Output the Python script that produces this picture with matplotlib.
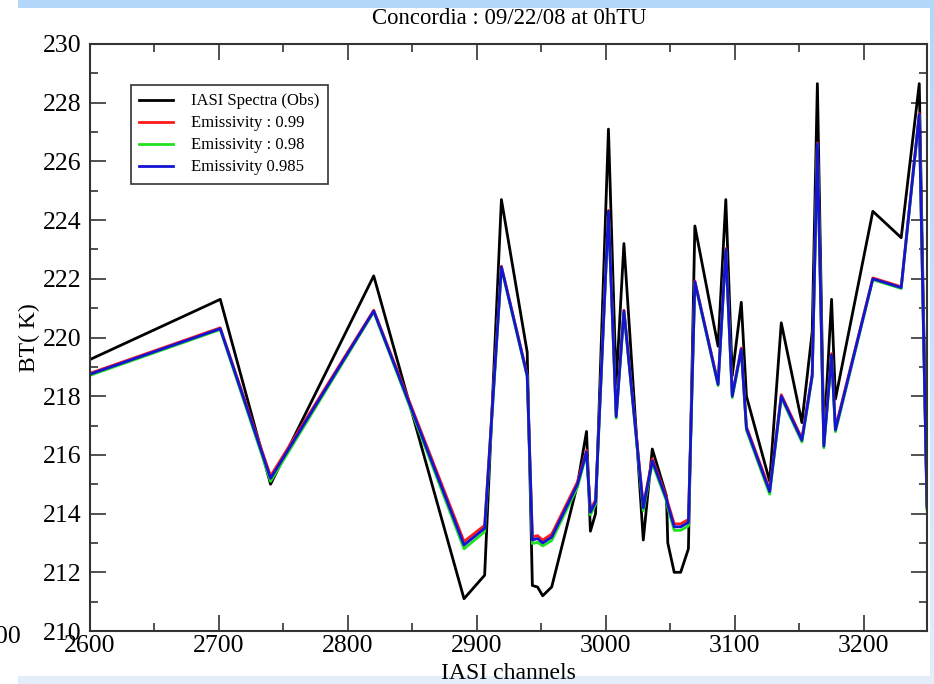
#!/usr/bin/env python3
"""Brightness temperature of IASI channels at Concordia, observed vs simulated."""

import numpy as np
import matplotlib

matplotlib.use("Agg")
import matplotlib.pyplot as plt
from matplotlib.colors import LinearSegmentedColormap
from matplotlib.patches import Rectangle
from matplotlib.ticker import MultipleLocator

channels = [2600, 2701, 2740, 2820, 2890, 2906, 2919, 2939, 2943, 2947, 2951,
            2958, 2978, 2985, 2988, 2992, 3002, 3008, 3014, 3029, 3036, 3047,
            3048, 3053, 3058, 3064, 3069, 3087, 3093, 3098, 3105, 3109, 3127,
            3136, 3152, 3160, 3164, 3169, 3175, 3178, 3207, 3229, 3243, 3249]

bt_obs = [219.25, 221.3, 215.0, 222.1, 211.1, 211.9, 224.7, 219.5, 211.55,
          211.5, 211.2, 211.5, 215.0, 216.8, 213.4, 214.0, 227.1, 218.4, 223.2,
          213.1, 216.2, 214.6, 213.0, 212.0, 212.0, 212.8, 223.8, 219.7, 224.7,
          218.7, 221.2, 218.0, 215.1, 220.5, 217.1, 220.2, 228.65, 216.5, 221.3,
          217.9, 224.3, 223.4, 228.65, 214.3]

bt_e099 = [218.78, 220.33, 215.28, 220.93, 213.05, 213.6, 222.43, 218.74,
           213.2, 213.25, 213.1, 213.3, 215.08, 216.15, 214.12, 214.47, 224.33,
           217.35, 220.93, 214.28, 215.86, 214.57, 214.38, 213.65, 213.65,
           213.8, 221.93, 218.44, 223.03, 218.05, 219.64, 216.96, 214.82,
           218.05, 216.56, 218.74, 226.63, 216.36, 219.45, 216.91, 222.03,
           221.73, 227.63, 214.27]

bt_e098 = [218.71, 220.27, 215.1, 220.87, 212.8, 213.38, 222.37, 218.66,
           212.98, 213.02, 212.9, 213.08, 214.9, 216.05, 213.96, 214.32, 224.27,
           217.25, 220.87, 214.1, 215.72, 214.42, 214.2, 213.43, 213.43, 213.58,
           221.87, 218.36, 222.97, 217.95, 219.56, 216.84, 214.66, 217.95,
           216.44, 218.66, 226.57, 216.24, 219.35, 216.79, 221.97, 221.67,
           227.57, 214.13]

bt_e0985 = [218.75, 220.3, 215.2, 220.9, 212.93, 213.5, 222.4, 218.7, 213.1,
            213.15, 213.0, 213.2, 215.0, 216.1, 214.05, 214.4, 224.3, 217.3,
            220.9, 214.2, 215.8, 214.5, 214.3, 213.55, 213.55, 213.7, 221.9,
            218.4, 223.0, 218.0, 219.6, 216.9, 214.75, 218.0, 216.5, 218.7,
            226.6, 216.3, 219.4, 216.85, 222.0, 221.7, 227.6, 214.2]

W, H = 934, 684

plt.rcParams["font.family"] = ["Liberation Serif", "DejaVu Serif"]

fig = plt.figure(figsize=(W / 100, H / 100), dpi=100)
fig.patch.set_facecolor("white")

# slide background strips, kept underneath everything else
bg = fig.add_axes([0, 0, 1, 1], zorder=-10)
bg.set_axis_off()
bg.add_patch(Rectangle((18, H - 8), W - 18, 8, facecolor="#b3d6fb", edgecolor="none"))
bg.add_patch(Rectangle((18, 0), W - 18, 8, facecolor="#e4eefb", edgecolor="none"))
slide = LinearSegmentedColormap.from_list("slide", ["#e4eefb", "#b3d6fb"])
bg.imshow(np.linspace(0, 1, 256).reshape(-1, 1), cmap=slide, origin="lower",
          aspect="auto", extent=(930, W, 0, H))
bg.set_xlim(0, W)
bg.set_ylim(0, H)

ax = fig.add_axes([90 / W, 1 - 631 / H, 837 / W, 587 / H])
ax.plot(channels, bt_obs, color="black", lw=2, label="IASI Spectra (Obs)")
ax.plot(channels, bt_e099, color="#ff1a1a", lw=2, label="Emissivity : 0.99")
ax.plot(channels, bt_e098, color="#22e022", lw=2, label="Emissivity : 0.98")
ax.plot(channels, bt_e0985, color="#1414d2", lw=2, label="Emissivity 0.985")

ax.set_xlim(2600, 3249)
ax.set_ylim(210, 230)
ax.xaxis.set_major_locator(MultipleLocator(100))
ax.xaxis.set_minor_locator(MultipleLocator(50))
ax.yaxis.set_major_locator(MultipleLocator(2))
ax.yaxis.set_minor_locator(MultipleLocator(1))
ax.tick_params(which="both", direction="in", top=True, right=True,
               color="#333333", width=1.2, labelsize=18.5)
ax.tick_params(which="major", length=11.5)
ax.tick_params(which="minor", length=5.8)
ax.tick_params(axis="x", pad=3)
ax.tick_params(axis="y", pad=6)
for spine in ax.spines.values():
    spine.set_color("#333333")
    spine.set_linewidth(1.5)

ax.set_xlabel("IASI channels", fontsize=17, labelpad=4.5)
ax.set_ylabel("BT( K)", fontsize=17, labelpad=2)
fig.text(509 / W, 1 - 18 / H, "Concordia : 09/22/08 at 0hTU", ha="center",
         va="center", fontsize=16.4)
fig.text(21 / W, 1 - 637 / H, "00", ha="right", va="center", fontsize=18.5)

leg = ax.legend(loc="upper left", bbox_to_anchor=(0.049, 0.930), borderaxespad=0,
                fontsize=12, fancybox=False, framealpha=1, edgecolor="#333333",
                handlelength=2.0, handletextpad=1.1, borderpad=0.5,
                labelspacing=0.36)
leg.get_frame().set_linewidth(1.2)

fig.savefig("out.png", dpi=100)
